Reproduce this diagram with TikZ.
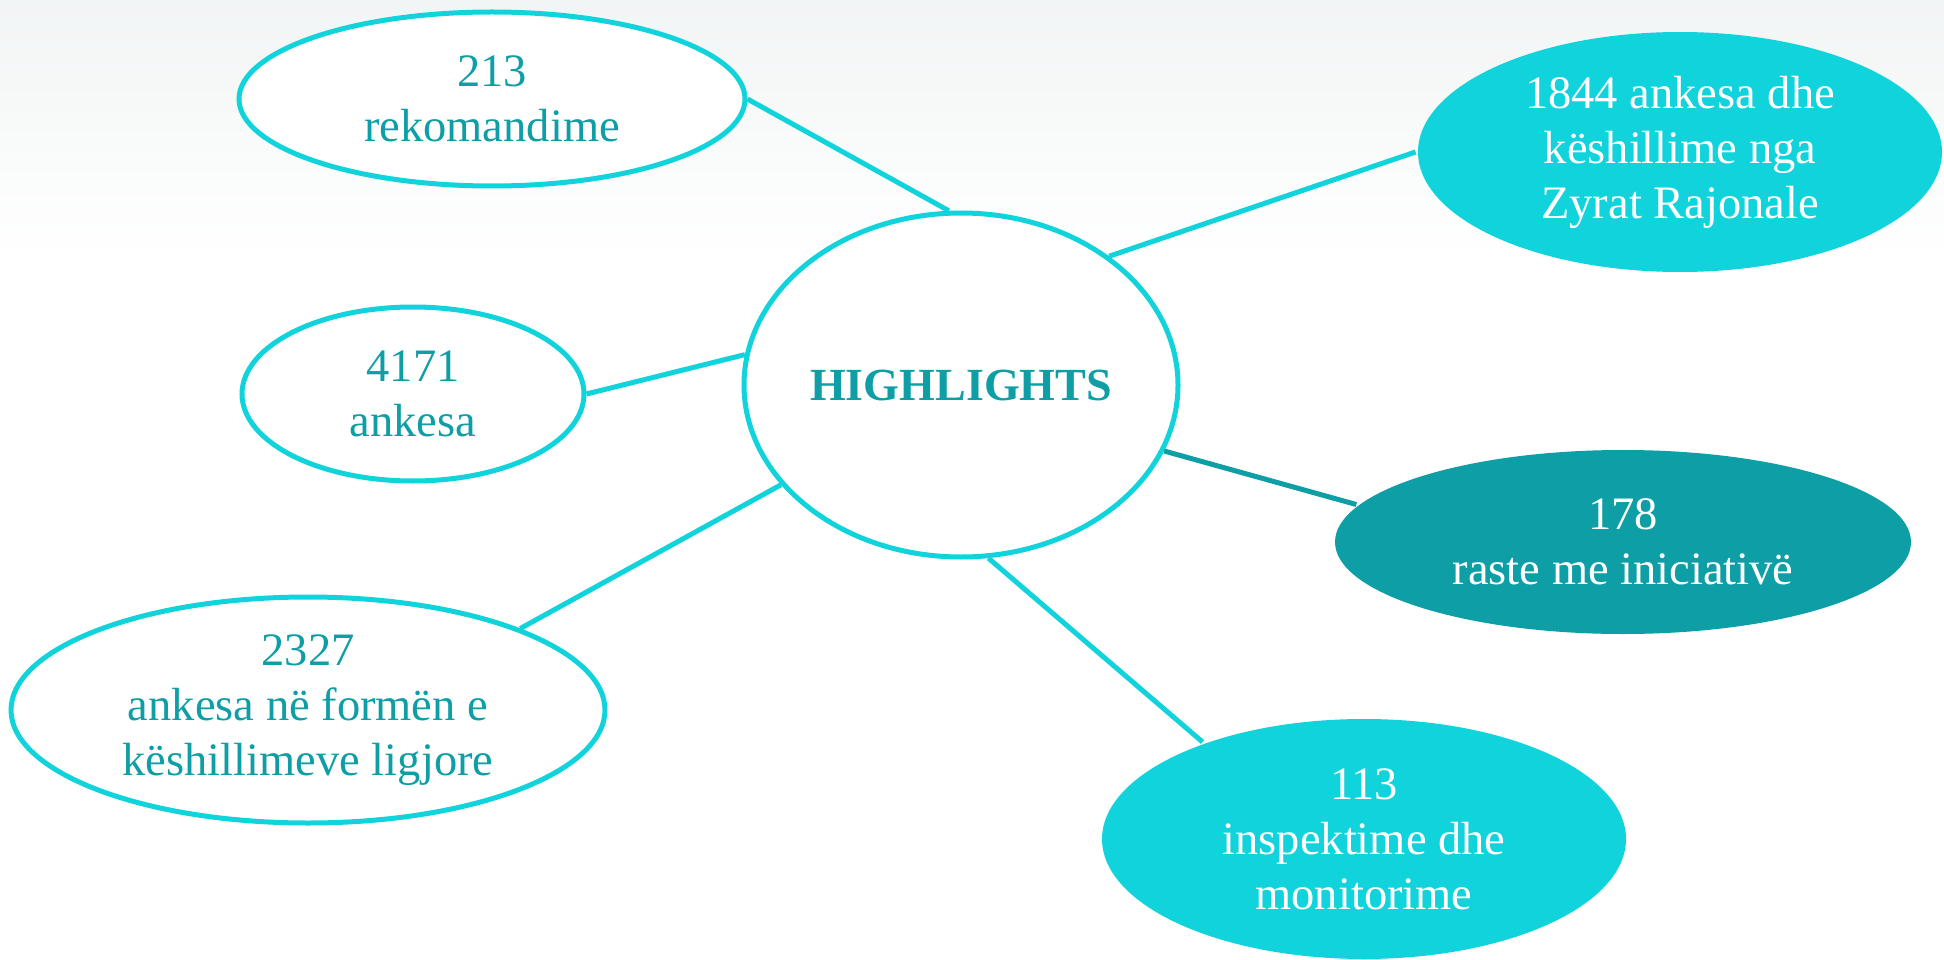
\documentclass[tikz,border=0pt]{standalone}
\usepackage{fontspec}
\setmainfont{Liberation Serif}
\usetikzlibrary{shapes.geometric}
\definecolor{cyanL}{HTML}{10D3DC}
\definecolor{tealD}{HTML}{0D9EA6}
\definecolor{bgtop}{HTML}{F2F5F5}
\begin{document}
\begin{tikzpicture}[x=1pt,y=-1pt,
  base/.style={ellipse,inner sep=0pt,align=center,line width=5pt,
    font=\fontsize{46.5}{55}\selectfont},
  wnode/.style={base,draw=cyanL,fill=white,text=tealD},
  cnode/.style={base,fill=cyanL,text=white},
  dnode/.style={base,fill=tealD,text=white},
  link/.style={line width=5pt,draw=cyanL},
  dlink/.style={line width=5pt,draw=tealD}]
\useasboundingbox (0,0) rectangle (1944,960);
\shade[top color=bgtop,bottom color=white] (0,0) rectangle (1944,260);
\fill[white] (0,260) rectangle (1944,960);

\node[wnode,minimum width=506pt,minimum height=174pt] (rek) at (492,99) {213\\rekomandime};
\node[wnode,minimum width=342pt,minimum height=174pt] (ank) at (413,394) {4171\\ankesa};
\node[wnode,minimum width=594pt,minimum height=226pt] (kes) at (308,710) {2327\\ankesa në formën e\\këshillimeve ligjore};
\node[wnode,minimum width=434pt,minimum height=344pt,font=\fontsize{46}{55}\selectfont\bfseries] (hl) at (961,385) {HIGHLIGHTS};
\node[cnode,minimum width=524pt,minimum height=240pt] (zyr) at (1680,152) {1844 ankesa dhe\\këshillime nga\\Zyrat Rajonale};
\node[dnode,minimum width=576pt,minimum height=184pt] (ini) at (1623,542) {178\\raste me iniciativë};
\node[cnode,minimum width=524pt,minimum height=240pt] (ins) at (1364,839) {113\\inspektime dhe\\monitorime};

\draw[link] (rek.east) -- (hl.94);
\draw[link] (ank.east) -- (hl.172);
\draw[link] (kes.21) -- (hl.209);
\draw[link] (hl.41) -- (zyr.west);
\draw[dlink] (hl.-18) -- (ini.172);
\draw[link] (hl.279) -- (ins.149);
\end{tikzpicture}
\end{document}
